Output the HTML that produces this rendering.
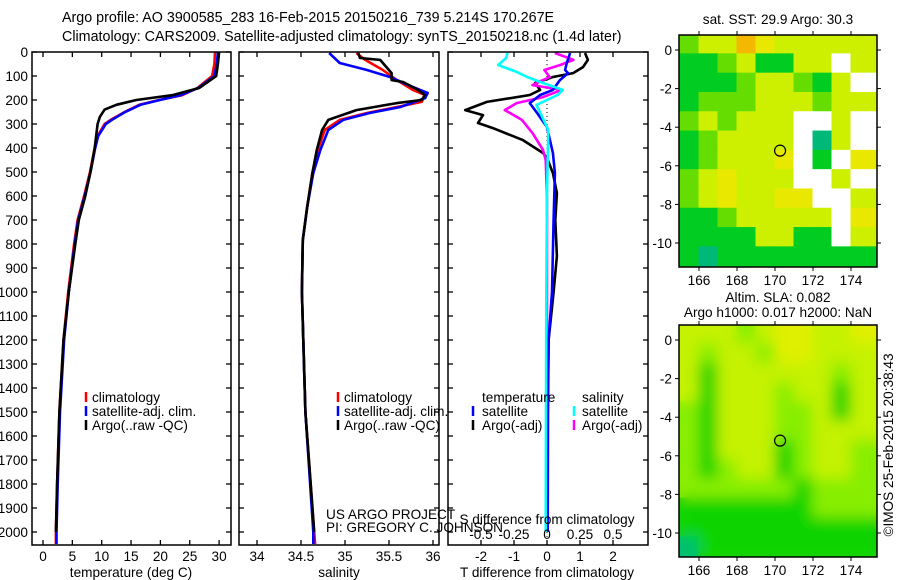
<!DOCTYPE html>
<html><head><meta charset="utf-8">
<style>
html,body{margin:0;padding:0;background:#fff;}
svg{display:block;font-family:"Liberation Sans",sans-serif;}
text{font-size:13.6px;fill:#000;}
</style></head>
<body>
<svg id="chart" width="900" height="580" viewBox="0 0 900 580">
<defs>
<clipPath id="c1"><rect x="32" y="52" width="199" height="493"/></clipPath>
<clipPath id="c2"><rect x="239" y="52" width="200" height="493"/></clipPath>
<clipPath id="c3"><rect x="448" y="52" width="200" height="493"/></clipPath>
<clipPath id="cm1"><rect x="679" y="35" width="198" height="232"/></clipPath>
<clipPath id="cm2"><rect x="679" y="325" width="198" height="232"/></clipPath>
<filter id="blur" x="-10%" y="-10%" width="120%" height="120%"><feGaussianBlur stdDeviation="7"/></filter>
</defs>
<text x="62" y="22" style="font-size:14.3px">Argo profile: AO 3900585_283 16-Feb-2015 20150216_739 5.214S 170.267E</text>
<text x="62" y="41" style="font-size:14.3px">Climatology: CARS2009. Satellite-adjusted climatology: synTS_20150218.nc (1.4d later)</text>
<g id="g1"></g>
<g id="g2"></g>
<g id="g3"></g>
<g id="m1"></g>
<g id="m2"></g>
<text x="778" y="24" text-anchor="middle">sat. SST: 29.9 Argo: 30.3</text>
<text x="778" y="302" text-anchor="middle">Altim. SLA: 0.082</text>
<text x="778" y="317" text-anchor="middle">Argo h1000: 0.017 h2000: NaN</text>
<text transform="translate(893,445) rotate(-90)" text-anchor="middle">©IMOS 25-Feb-2015 20:38:43</text>
<text x="326" y="519">US ARGO PROJECT</text>
<text x="326" y="532">PI: GREGORY C. JOHNSON</text>
</svg>
<script>
// ---- data ----
const depthTicks=[0,100,200,300,400,500,600,700,800,900,1000,1100,1200,1300,1400,1500,1600,1700,1800,1900,2000];
const tTicks=[0,5,10,15,20,25,30];
const sTicks=[34,34.5,35,35.5,36];
const dtTicks=[-2,-1,0,1,2];
const dsTicks=[-0.5,-0.25,0,0.25,0.5];
const dsTickLabels=["-0.5","-0.25","0","0.25","0.5"];
const climDepth=[0,50,100,150,180,200,220,250,280,300,350,400,500,600,700,800,1000,1200,1500,1800,2000,2050];
const climT=[29.3,29.2,28.8,26.3,23.7,19.8,16.4,13.9,11.7,10.5,9.3,8.8,8.0,7.0,5.9,5.3,4.3,3.5,2.8,2.4,2.2,2.2];
const satT=[29.8,29.6,29.2,26.4,23.4,19.9,16.6,14.0,11.9,10.7,9.4,8.9,8.1,7.1,6.0,5.4,4.4,3.6,2.9,2.5,2.3,2.3];
const argoDepth=[0,50,100,150,180,200,220,240,270,300,400,500,600,700,800,1000,1200,1500,1800,2000];
const argoT=[30.0,29.8,29.5,26.6,22.0,15.9,12.5,10.5,9.7,9.3,8.8,8.1,7.2,6.1,5.5,4.4,3.5,2.8,2.4,2.2];
const climSDepth=[4,33,75,117,158,179,208,229,254,283,325,408,504,646,783,1000,1500,2000,2050];
const climS=[35.13,35.23,35.43,35.59,35.77,35.91,35.87,35.59,35.25,34.94,34.77,34.69,34.63,34.57,34.52,34.51,34.55,34.65,34.66];
const satSDepth=[4,46,75,104,146,171,192,229,254,283,325,408,504,646,783,1000,1500,2000,2050];
const satS=[34.82,34.94,35.25,35.51,35.77,35.94,35.91,35.63,35.28,34.98,34.81,34.72,34.64,34.57,34.52,34.51,34.55,34.64,34.64];
const argoSDepth=[4,25,33,88,117,125,158,179,200,213,242,283,325,408,504,646,783,1000,1500,2000];
const argoS=[35.15,35.17,35.40,35.53,35.53,35.66,35.83,35.91,35.87,35.59,35.13,34.81,34.74,34.68,34.63,34.57,34.52,34.51,34.55,34.65];
const dTArgoDepth=[4,33,63,88,104,129,158,179,208,242,263,296,317,367,421,442,504,588,700,850,1000,1200,1500,2000];
const dTArgo=[1.15,1.24,1.09,0.79,0.18,-0.36,-0.21,-0.52,-1.82,-2.48,-1.94,-2.09,-1.64,-0.73,-0.12,0,0.18,0.3,0.25,0.3,0.2,0.05,0.02,0.0];
const dTSatDepth=[4,46,75,88,117,158,179,213,254,313,421,504,700,1000,1200,1500,2000];
const dTSat=[0.7,0.6,0.55,0.64,0.39,0.18,-0.21,-0.52,-0.3,0,0.18,0.24,0.2,0.15,0.05,0.03,0.02];
const dSSatDepth=[4,25,54,83,104,129,158,179,221,254,325,600,1000,2000];
const dSSat=[-0.30,-0.31,-0.37,-0.23,-0.15,-0.03,0.12,0.08,-0.08,-0.05,0.01,0.0,-0.005,-0.01];
const dSArgoDepth=[4,33,54,75,104,138,158,188,213,242,283,338,408,450,600,1000,2000];
const dSArgo=[0.06,0.2,0.1,-0.02,0.02,-0.11,0.11,-0.03,-0.23,-0.32,-0.19,-0.11,-0.03,-0.01,0.0,0.0,0.0];
const mapLons=[165.5,166.5,167.5,168.5,169.5,170.5,171.5,172.5,173.5,174.5,175.5];
const mapLats=[0.3,-0.7,-1.7,-2.7,-3.7,-4.7,-5.7,-6.7,-7.7,-8.7,-9.7,-10.7];
const sstGrid=["gLLOYLLLLLL","GGgLGGLLWLL","GGGgLLgGLWW","GgggLLLgLLL","gLgLLLWWLWW","GgLLLLWTLWW","GgLLLYWGWYY","gLYLLLWWLWW","gLYLLYYWWLL","GGgLLLLLWYY","GGGGLLGGWLL","GTGGGGGGGGG"];
const slaGrid=["LLLgLYYLLYY","LgLLgYYLLLL","LGLLLLLLgLL","LGLLLgLLGLL","gGLLLggLGLL","gGLLLggLLLL","gGLLLGgLLgg","gGgLLGgLLgg","ggggggGgggg","GGGGGGGgggg","GGGGGGGGGGG","TGGGGGGGGGG"];
const argoLon=170.267, argoLat=-5.214;

// ---- helpers ----
const NS="http://www.w3.org/2000/svg";
function mk(parent,tag,attrs){const e=document.createElementNS(NS,tag);for(const k in attrs)e.setAttribute(k,attrs[k]);parent.appendChild(e);return e;}
const yD=d=>52+d*0.24;
const xT=t=>43+t*5.87;
const xS=s=>257+(s-34)*88;
const xDT=v=>547+v*33;
const xDS=v=>547+v*132;

function frame(g,x0,x1,y0,y1){
  const r=mk(g,'rect',{x:x0,y:y0,width:x1-x0,height:y1-y0,fill:'none',stroke:'#000','stroke-width':1.5});
  
  depthTicks.forEach(d=>{const y=yD(d);
    const t1=mk(g,'line',{x1:x0,x2:x0+5,y1:y,y2:y,stroke:'#000','stroke-width':1.3});
    
    const t2=mk(g,'line',{x1:x1-5,x2:x1,y1:y,y2:y,stroke:'#000','stroke-width':1.3});
    
  });
}
function xticks(g,vals,labels,fx,y0,y1,ly){
  vals.forEach((v,i)=>{const x=fx(v);
    const a=mk(g,'line',{x1:x,x2:x,y1:y0,y2:y0+5,stroke:'#000','stroke-width':1.3});
    
    const b=mk(g,'line',{x1:x,x2:x,y1:y1-5,y2:y1,stroke:'#000','stroke-width':1.3});
    
    if(ly){const t=mk(g,'text',{x:x,y:ly,'text-anchor':'middle'});t.textContent=labels[i];
      }
  });
}
function line(g,xs,ds,fx,color,clip,name,w){
  const pts=xs.map((v,i)=>fx(v).toFixed(1)+','+yD(ds[i]).toFixed(1)).join(' ');
  const p=mk(g,'polyline',{points:pts,fill:'none',stroke:color,'stroke-width':w||2.6,'stroke-linejoin':'round','clip-path':'url(#'+clip+')'});
  
}
function legendMark(g,x,y,color){const l=mk(g,'line',{x1:x,x2:x,y1:y-10,y2:y,stroke:color,'stroke-width':2.5});
  }
function txt(g,x,y,s,name,anchor){const t=mk(g,'text',{x:x,y:y});if(anchor)t.setAttribute('text-anchor',anchor);t.textContent=s;
  return t;}

// ---- panel 1 ----
const g1=document.getElementById('g1');
depthTicks.forEach(d=>{const t=txt(g1,28,yD(d)+5,String(d),'depth-tick-label','end');});
line(g1,climT,climDepth,xT,'#ff0000','c1','climatology-temperature-line');
line(g1,satT,climDepth,xT,'#0000ff','c1','satellite-temperature-line');
line(g1,argoT,argoDepth,xT,'#000000','c1','argo-temperature-line');
frame(g1,32,231,52,545);
xticks(g1,tTicks,tTicks.map(String),xT,52,545,561);
txt(g1,131,577,'temperature (deg C)','x-axis-title','middle');
legendMark(g1,86,402,'#ff0000');txt(g1,92,402,'climatology','legend-entry');
legendMark(g1,86,416,'#0000ff');txt(g1,92,416,'satellite-adj. clim.','legend-entry');
legendMark(g1,86,430,'#000000');txt(g1,92,430,'Argo(..raw -QC)','legend-entry');

// ---- panel 2 ----
const g2=document.getElementById('g2');
line(g2,climS,climSDepth,xS,'#ff0000','c2','climatology-salinity-line');
line(g2,satS,satSDepth,xS,'#0000ff','c2','satellite-salinity-line');
line(g2,argoS,argoSDepth,xS,'#000000','c2','argo-salinity-line');
frame(g2,239,439,52,545);
xticks(g2,sTicks,sTicks.map(String),xS,52,545,561);
txt(g2,339,577,'salinity','x-axis-title','middle');
legendMark(g2,338,402,'#ff0000');txt(g2,344,402,'climatology','legend-entry');
legendMark(g2,338,416,'#0000ff');txt(g2,344,416,'satellite-adj. clim.','legend-entry');
legendMark(g2,338,430,'#000000');txt(g2,344,430,'Argo(..raw -QC)','legend-entry');

// ---- panel 3 ----
const g3=document.getElementById('g3');
const zl=mk(g3,'line',{x1:xDT(0),x2:xDT(0),y1:52,y2:545,stroke:'#000','stroke-width':1,'stroke-dasharray':'1,3'});

line(g3,dTArgo,dTArgoDepth,xDT,'#000000','c3','argo-temperature-difference-line');
line(g3,dSArgo,dSArgoDepth,xDS,'#ff00ff','c3','argo-salinity-difference-line');
line(g3,dTSat,dTSatDepth,xDT,'#0000ff','c3','satellite-temperature-difference-line');
line(g3,dSSat,dSSatDepth,xDS,'#00ffff','c3','satellite-salinity-difference-line');
frame(g3,448,648,52,545);
xticks(g3,dtTicks,dtTicks.map(String),xDT,52,545,561);
dsTicks.forEach((v,i)=>{const t=txt(g3,xDS(v),539,dsTickLabels[i],'s-tick-label','middle');});
txt(g3,547,524,'S difference from climatology','s-axis-title','middle');
txt(g3,547,577,'T difference from climatology','x-axis-title','middle');
txt(g3,482,402,'temperature','legend-header');
txt(g3,582,402,'salinity','legend-header');
legendMark(g3,473,416,'#0000ff');txt(g3,482,416,'satellite','legend-entry');
legendMark(g3,473,430,'#000000');txt(g3,482,430,'Argo(-adj)','legend-entry');
legendMark(g3,574,416,'#00ffff');txt(g3,582,416,'satellite','legend-entry');
legendMark(g3,574,430,'#ff00ff');txt(g3,582,430,'Argo(-adj)','legend-entry');

// ---- maps ----
const colsSST={g:'#66dd00',G:'#00cc22',L:'#ccf000',Y:'#e8e800',O:'#f5b800',W:'#ffffff',T:'#00b878'};
const colsSLA={g:'#88ee00',G:'#11d400',L:'#c4f200',Y:'#e0f000',T:'#00c070',W:'#ffffff'};
function drawMap(id,clip,y0,grid,cols,blur){
  const g=document.getElementById(id);
  const xL=lon=>699+(lon-166)*19;
  const yL=lat=>y0+15-lat*19.3;
  const bg=mk(g,'g',{'clip-path':'url(#'+clip+')'});
  const layers=blur?[mk(bg,'g',{}),mk(bg,'g',{filter:'url(#blur)'})]:[mk(bg,'g',{})];
  layers.forEach(inner=>{
  grid.forEach((row,r)=>{row.split('').forEach((c,ci)=>{
    if(ci>=mapLons.length) return;
    const x=xL(mapLons[ci]-0.5),y=yL(mapLats[r]+0.5);
    const cell=mk(inner,'rect',{x:x-0.5,y:y-0.5,width:20,height:20.3,fill:cols[c]||'#88ee00'});
    
    
  });});});
  const fr=mk(g,'rect',{x:679,y:y0,width:198,height:232,fill:'none',stroke:'#000','stroke-width':1.5});
  
  [166,168,170,172,174].forEach(lon=>{const x=xL(lon);
    mk(g,'line',{x1:x,x2:x,y1:y0,y2:y0-4,stroke:'#000'});
    mk(g,'line',{x1:x,x2:x,y1:y0+232,y2:y0+236,stroke:'#000'});
    txt(g,x,y0+250,String(lon),'lon-tick-label','middle');});
  [0,-2,-4,-6,-8,-10].forEach(lat=>{const y=yL(lat);
    mk(g,'line',{x1:679,x2:675,y1:y,y2:y,stroke:'#000'});
    mk(g,'line',{x1:877,x2:881,y1:y,y2:y,stroke:'#000'});
    txt(g,672,y+5,String(lat),'lat-tick-label','end');});
  const c=mk(g,'circle',{cx:xL(argoLon),cy:yL(argoLat),r:5.5,fill:'none',stroke:'#000','stroke-width':1.2});
  
}
drawMap('m1','cm1',35,sstGrid,colsSST,false);
drawMap('m2','cm2',325,slaGrid,colsSLA,true);
</script>
</body></html>
